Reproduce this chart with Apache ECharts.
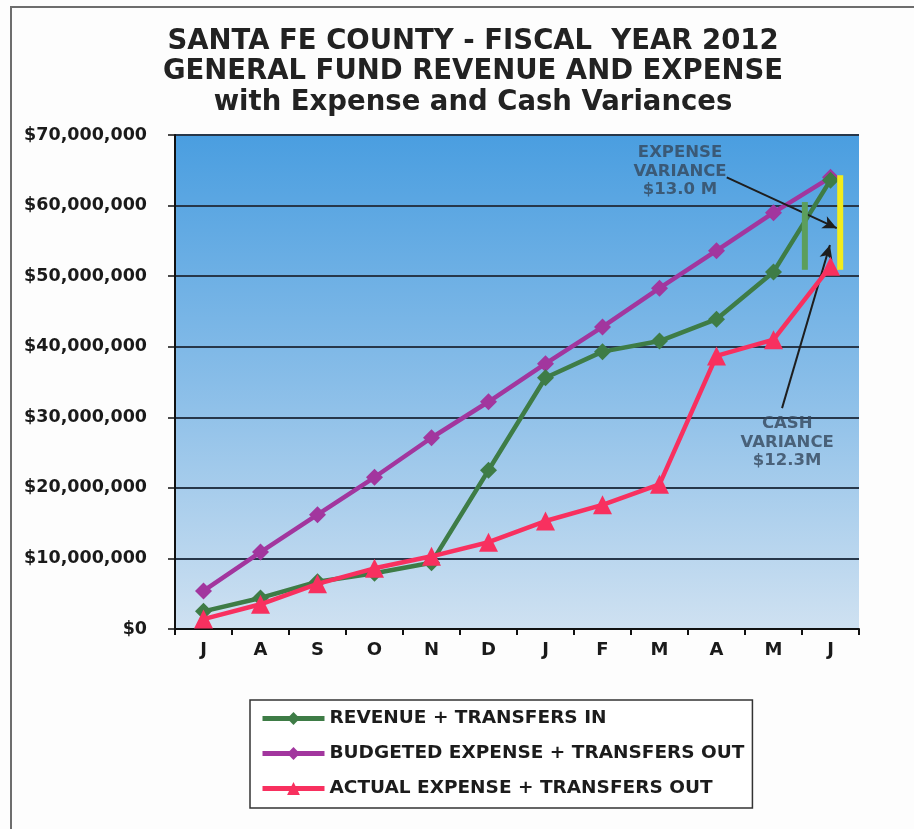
<!DOCTYPE html>
<html>
<head>
<meta charset="utf-8">
<script src="https://cdn.jsdelivr.net/npm/echarts@6/dist/echarts.min.js"></script>
<style>
html,body{margin:0;padding:0;background:#fdfdfd;}
#chart{width:914px;height:829px;}
</style>
</head>
<body>
<div id="chart"></div>
<script>
// ---- data ----
const titleLines = ['SANTA FE COUNTY - FISCAL  YEAR 2012', 'GENERAL FUND REVENUE AND EXPENSE', 'with Expense and Cash Variances'];
const months = ['J','A','S','O','N','D','J','F','M','A','M','J'];
const revenueName = 'REVENUE + TRANSFERS IN';
const budgetName = 'BUDGETED EXPENSE + TRANSFERS OUT';
const actualName = 'ACTUAL EXPENSE + TRANSFERS OUT';
const revenue  = [2.5e6, 4.4e6, 6.7e6, 7.9e6, 9.4e6, 22.5e6, 35.6e6, 39.3e6, 40.8e6, 43.9e6, 50.6e6, 63.6e6];
const budgeted = [5.4e6, 10.9e6, 16.2e6, 21.5e6, 27.1e6, 32.2e6, 37.6e6, 42.8e6, 48.3e6, 53.6e6, 59.0e6, 64.0e6];
const actual   = [1.4e6, 3.5e6, 6.4e6, 8.6e6, 10.3e6, 12.3e6, 15.3e6, 17.6e6, 20.5e6, 38.7e6, 41.0e6, 51.4e6];
// variance annotations (x in category-index units, y in dollars)
const expenseBar = [[10.55, 60.5e6], [10.55, 50.9e6]];
const cashBar    = [[11.17, 64.3e6], [11.17, 50.9e6]];
const expenseArrow = [[9.18, 64.0e6], [11.11, 56.8e6]];
const cashArrow    = [[10.15, 31.3e6], [10.99, 54.4e6]];
const expenseLabel = {pos: [8.36, 64.8e6], text: 'EXPENSE\nVARIANCE\n$13.0 M'};
const cashLabel    = {pos: [10.24, 26.4e6], text: 'CASH\nVARIANCE\n$12.3M'};

const chart = echarts.init(document.getElementById('chart'));
const FONT = 'DejaVu Sans';
const titleCenters = [42, 72, 103];
const option = {
  animation: false,
  backgroundColor: '#fdfdfd',
  graphic: [{
    type: 'rect', silent: true, z: -1,
    shape: {x: 11, y: 7, width: 1000, height: 1000},
    style: {fill: 'none', stroke: '#6d6d6d', lineWidth: 2}
  }].concat(titleLines.map((t, i) => ({
    type: 'text', silent: true,
    x: 473, y: titleCenters[i],
    style: {
      text: t, fill: '#222',
      font: 'bold 27.5px "DejaVu Sans"',
      textAlign: 'center', textVerticalAlign: 'middle'
    }
  }))),
  legend: {
    orient: 'vertical',
    left: 250, top: 700,
    padding: [9, 8, 10, 10],
    itemWidth: 62, itemHeight: 16, itemGap: 16,
    backgroundColor: '#ffffff',
    borderColor: '#333', borderWidth: 1.5,
    data: [revenueName, budgetName, actualName],
    lineStyle: {width: 5},
    textStyle: {fontFamily: FONT, fontWeight: 'bold', fontSize: 18.5, lineHeight: 18, color: '#1c1c1c'}
  },
  grid: {
    left: 175, right: 55, top: 135, bottom: 200,
    show: true, borderWidth: 0,
    backgroundColor: new echarts.graphic.LinearGradient(0, 0, 0, 1, [
      {offset: 0, color: '#4a9ee0'},
      {offset: 0.5, color: '#88bde8'},
      {offset: 1, color: '#cfe1f1'}
    ])
  },
  xAxis: [{
    type: 'category', data: months, boundaryGap: true,
    axisLine: {lineStyle: {color: '#111', width: 2}},
    axisTick: {show: true, length: 6, lineStyle: {color: '#111', width: 2}},
    axisLabel: {fontFamily: FONT, fontWeight: 'bold', fontSize: 18, color: '#1a1a1a', margin: 12},
    splitLine: {show: false}
  }, {
    type: 'value', min: -0.5, max: 11.5, show: false, position: 'top'
  }],
  yAxis: {
    type: 'value', min: 0, max: 70e6, interval: 10e6,
    axisLine: {show: true, onZero: false, lineStyle: {color: '#111', width: 2}},
    axisTick: {show: true, length: 7, lineStyle: {color: '#111', width: 1.5}},
    axisLabel: {
      fontFamily: FONT, fontWeight: 'bold', fontSize: 17.5, color: '#1a1a1a', margin: 28,
      formatter: v => '$' + v.toLocaleString('en-US')
    },
    splitLine: {show: true, lineStyle: {color: '#27374a', width: 2}}
  },
  series: [
    {
      name: budgetName, type: 'line', data: budgeted,
      symbol: 'diamond', symbolSize: 17,
      lineStyle: {color: '#a2369e', width: 4.5},
      itemStyle: {color: '#a2369e'}, z: 3
    },
    {
      name: revenueName, type: 'line', data: revenue,
      symbol: 'diamond', symbolSize: 17,
      lineStyle: {color: '#3e7c46', width: 4.5},
      itemStyle: {color: '#3e7c46'}, z: 4
    },
    {
      name: actualName, type: 'line', data: actual,
      symbol: 'triangle', symbolSize: 19,
      lineStyle: {color: '#f8305f', width: 4.5},
      itemStyle: {color: '#f8305f'}, z: 5
    },
    {
      type: 'line', xAxisIndex: 1, data: expenseBar, symbol: 'none',
      lineStyle: {color: '#5c9e5c', width: 6}, z: 6, silent: true
    },
    {
      type: 'line', xAxisIndex: 1, data: cashBar, symbol: 'none',
      lineStyle: {color: '#f2ec1c', width: 6}, z: 6, silent: true
    },
    {
      type: 'scatter', xAxisIndex: 1, symbolSize: 0, z: 7, silent: true,
      data: [
        {value: expenseLabel.pos, name: expenseLabel.text},
        {value: cashLabel.pos, name: cashLabel.text}
      ],
      label: {
        show: true, position: 'inside', formatter: p => p.name,
        fontFamily: FONT, fontWeight: 'bold', fontSize: 16.5, lineHeight: 18.5,
        color: '#34475c', align: 'center', verticalAlign: 'middle'
      },
      markLine: {
        silent: true, symbol: ['none', 'arrow'], symbolSize: [10, 14],
        label: {show: false},
        lineStyle: {color: '#1e1e1e', width: 2, type: 'solid'},
        data: [
          [{coord: expenseArrow[0]}, {coord: expenseArrow[1]}],
          [{coord: cashArrow[0]}, {coord: cashArrow[1]}]
        ]
      }
    }
  ]
};
chart.setOption(option);
</script>
</body>
</html>
